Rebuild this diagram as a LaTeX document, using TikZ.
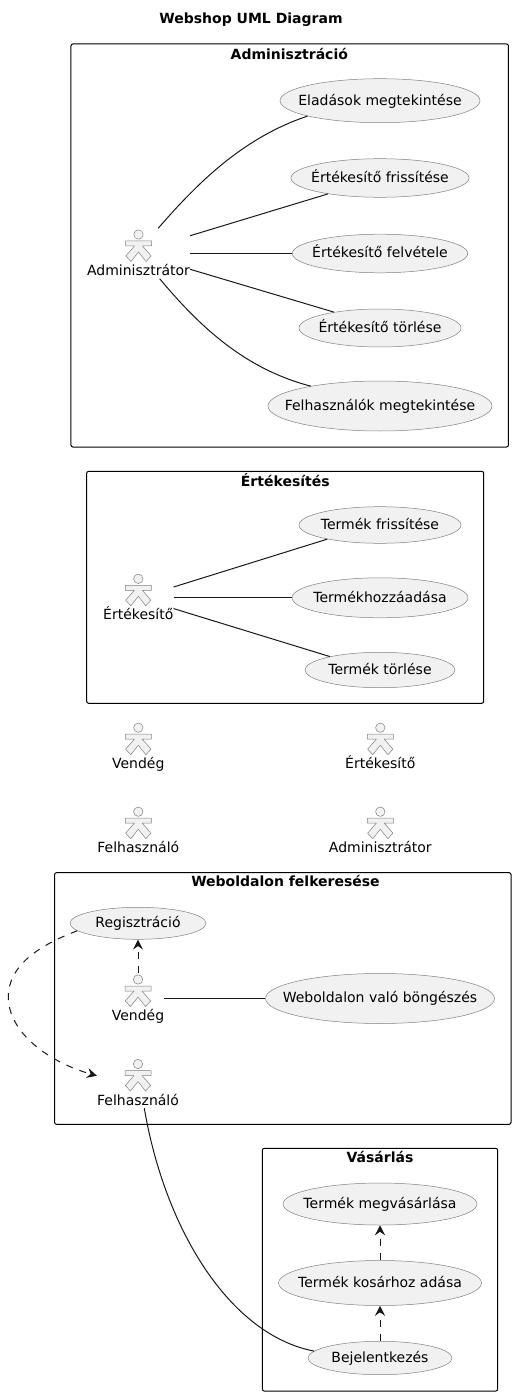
\documentclass[tikz,border=0pt]{standalone}
\usepackage{fontspec}
\usepackage{xcolor}
\setmainfont{DejaVu Sans}
\usetikzlibrary{positioning, arrows.meta, shapes.geometric}

\definecolor{ucfill}{HTML}{F1F1F1}
\definecolor{ucline}{HTML}{808080}
\definecolor{linkline}{HTML}{181818}
\newcommand{\uctext}[1]{\makebox[0pt]{\raisebox{-4.4pt}[0pt][0pt]{#1}}}

\tikzset{
  pics/actor/.style={code={
    \draw[ucline, fill=ucfill, line width=0.5pt] (0,0) circle (4.7);
    \draw[ucline, fill=ucfill, line width=0.5pt, line join=round]
      (-13,6.5) -- (13,6.5) -- (13,11.5) -- (4,11.5) -- (12.7,21.5) -- (7.5,27) -- (0,17.5)
      -- (-7.5,27) -- (-12.7,21.5) -- (-4,11.5) -- (-13,11.5) -- cycle;
    \node[actorbox] (-box) at (0,19) {\phantom{#1}};
    \node[inner sep=0pt, anchor=base] (-label) at (0,41.1) {#1};
  }}
}

\begin{document}
\begin{tikzpicture}[x=1pt, y=-1pt, every node/.style={font=\fontsize{14}{16}\selectfont, text=black},
  actorbox/.style={inner sep=0pt, minimum height=50pt},
  usecase/.style 2 args={draw=ucline, fill=ucfill, line width=0.5pt, ellipse, inner sep=0pt, minimum width=#1, minimum height=#2},
  frame/.style 2 args={draw=black, line width=1pt, rounded corners=2pt, inner sep=0pt, minimum width=#1, minimum height=#2},
  frametitle/.style={inner sep=0pt, anchor=base, font=\fontsize{14}{16}\selectfont\bfseries},
  assoc/.style={draw=linkline, line width=1pt},
  incl/.style={draw=linkline, line width=1pt, dash pattern=on 7pt off 7pt, -{Stealth[length=10pt, width=10pt, inset=3.5pt]}}]
  \useasboundingbox (0,0) rectangle (515,1396);

  \node[frametitle] (title) at (251,23.3) {Webshop UML Diagram};

  % Frames
  \node[frame={437.5}{403}] (adminframe) at (289.7,245.5) {};
  \node[frametitle] (admintitle) at (289.3,59.3) {Adminisztráció};
  \node[frame={397}{232}] (salesframe) at (285.2,587.3) {};
  \node[frametitle] (salestitle) at (285.3,486) {Értékesítés};
  \node[frame={456.5}{251.6}] (webframe) at (282.8,998.5) {};
  \node[frametitle] (webtitle) at (285.5,886.7) {Weboldalon felkeresése};
  \node[frame={235.4}{242.7}] (buyframe) at (380,1269.7) {};
  \node[frametitle] (buytitle) at (380,1162.7) {Vásárlás};

  % Adminisztracio
  \pic (admin) at (138.5,234.5) {actor=Adminisztrátor};
  \node[usecase={200}{44}] (sales) at (380,100.7) {\uctext{Eladások megtekintése}};
  \node[usecase={178}{38.6}] (sellerup) at (380,178) {\uctext{Értékesítő frissítése}};
  \node[usecase={175.4}{38.6}] (selleradd) at (380,253.5) {\uctext{Értékesítő felvétele}};
  \node[usecase={162}{38}] (sellerdel) at (380,328) {\uctext{Értékesítő törlése}};
  \node[usecase={224}{50}] (users) at (380,406) {\uctext{Felhasználók megtekintése}};

  \draw[assoc] (admin-box.52) .. controls (200,180) and (245,137) .. (sales.192.8);
  \draw[assoc] (admin-box.19) -- (sellerup.197);
  \draw[assoc] (admin-box.east) -- (selleradd.west);
  \draw[assoc] (admin-box.-17) -- (sellerdel.161.6);
  \draw[assoc] (admin-box.-50) .. controls (200,327) and (245,369) .. (users.164.7);

  % Ertekesites
  \pic (seller) at (138.3,578.8) {actor=Értékesítő};
  \node[usecase={162}{36.6}] (produp) at (380,525) {\uctext{Termék frissítése}};
  \node[usecase={176}{40}] (prodadd) at (380,597.8) {\uctext{Termékhozzáadása}};
  \node[usecase={150}{35.4}] (proddel) at (380,670) {\uctext{Termék törlése}};

  \draw[assoc] (seller-box.17) -- (produp.195);
  \draw[assoc] (seller-box.east) -- (prodadd.west);
  \draw[assoc] (seller-box.-17) -- (proddel.165.4);

  % Actors
  \pic (guesta) at (138.3,727.7) {actor=Vendég};
  \pic (sellera) at (380.3,727.7) {actor=Értékesítő};
  \pic (usera) at (138.3,811.7) {actor=Felhasználó};
  \pic (admina) at (380.3,811.7) {actor=Adminisztrátor};

  % Weboldalon felkeresese
  \node[usecase={136}{32}] (reg) at (138,923.3) {\uctext{Regisztráció}};
  \pic (guest) at (138,979.5) {actor=Vendég};
  \pic (user) at (138,1064) {actor=Felhasználó};
  \node[usecase={229}{50}] (browse) at (380,998.5) {\uctext{Weboldalon való böngészés}};

  \draw[incl] (guest-box.north) -- (reg.south);
  \draw[assoc] (guest-box.east) -- (browse.west);
  \draw[incl] (reg.187) .. controls (40,945) and (8.3,965) .. (8.3,997)
    .. controls (8.3,1032) and (48,1062) .. (user-box.170);

  % Vasarlas
  \node[usecase={194}{42}] (buy) at (380,1204) {\uctext{Termék megvásárlása}};
  \node[usecase={203}{45}] (cart) at (380,1283) {\uctext{Termék kosárhoz adása}};
  \node[usecase={144}{33.4}] (login) at (380,1358) {\uctext{Bejelentkezés}};

  \draw[incl] (cart.north) -- (buy.south);
  \draw[incl] (login.north) -- (cart.south);
  \draw[assoc] (user-box.-76) .. controls (165,1230) and (230,1335) .. (login.174);
\end{tikzpicture}
\end{document}
